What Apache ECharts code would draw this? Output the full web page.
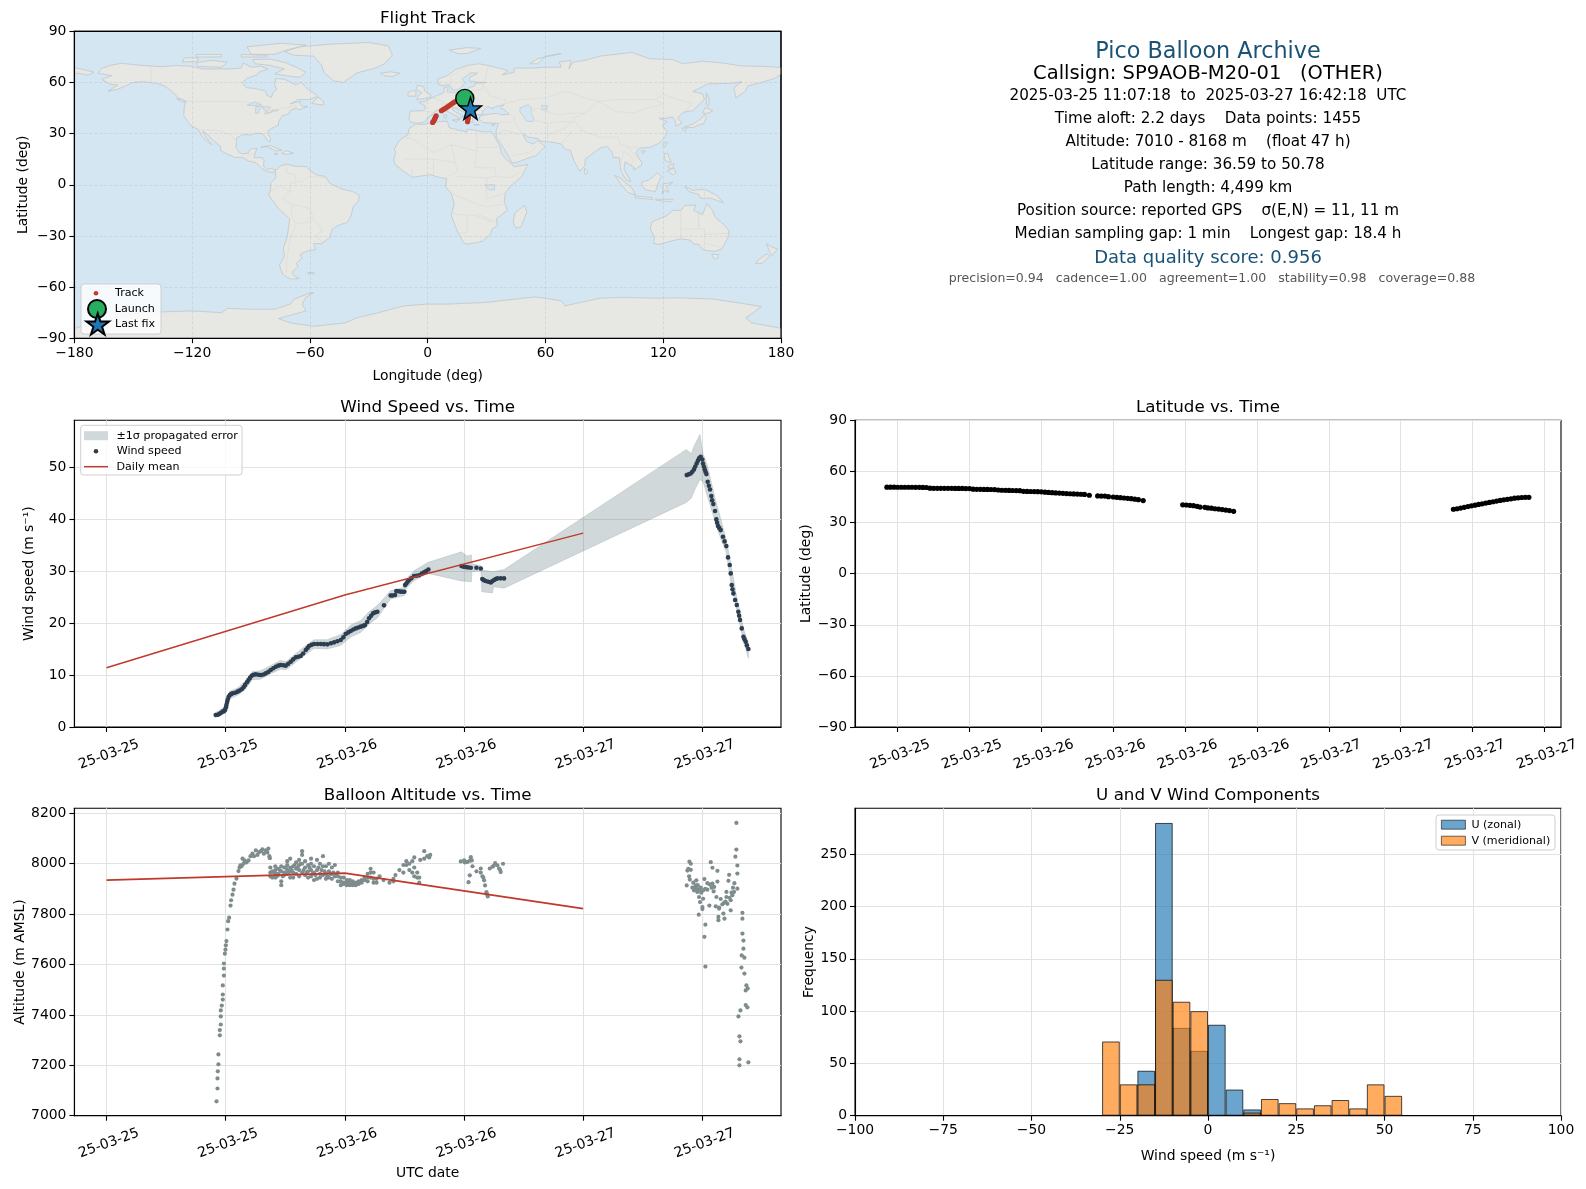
<!DOCTYPE html>
<html><head><meta charset="utf-8">
<script src="https://cdn.jsdelivr.net/npm/echarts@6/dist/echarts.min.js"></script>
<style>html,body{margin:0;padding:0;background:#fff}#c{width:1586px;height:1189px}</style>
</head><body><div id="c"></div>
<script>
const infoLines = [
 ["Pico Balloon Archive",52,22.3,"#1a5276",1208],
 ["Callsign: SP9AOB-M20-01   (OTHER)",74,19.5,"#000",1208],
 ["2025-03-25 11:07:18  to  2025-03-27 16:42:18  UTC",96,15.2,"#000",1208],
 ["Time aloft: 2.2 days    Data points: 1455",119,15.2,"#000",1208],
 ["Altitude: 7010 - 8168 m    (float 47 h)",142,15.2,"#000",1208],
 ["Latitude range: 36.59 to 50.78",165,15.2,"#000",1208],
 ["Path length: 4,499 km",188,15.2,"#000",1208],
 ["Position source: reported GPS    σ(E,N) = 11, 11 m",211,15.2,"#000",1208],
 ["Median sampling gap: 1 min    Longest gap: 18.4 h",234,15.2,"#000",1208],
 ["Data quality score: 0.956",258,18,"#1a5276",1208],
 ["precision=0.94   cadence=1.00   agreement=1.00   stability=0.98   coverage=0.88",279,12.55,"#555",1212]
];
const mapXTicks=[-180,-120,-60,0,60,120,180];
const mapYTicks=[-90,-60,-30,0,30,60,90];
const windYTicks=[0,10,20,30,40,50];
const latYTicks=[-90,-60,-30,0,30,60,90];
const altYTicks=[7000,7200,7400,7600,7800,8000,8200];
const histXTicks=[-100,-75,-50,-25,0,25,50,75,100];
const histYTicks=[0,50,100,150,200,250];
const timeTicksWide=[0,12,24,36,48,60];
const timeTicksLat=[12,18,24,30,36,42,48,54,60,66];

const landPolygons=[
[[-168,65.5],[-166,68.3],[-162,70],[-156,71.3],[-148,70.3],[-141,69.7],[-135,69.3],[-128,70],[-120,69.5],[-115,68],[-108,68],[-100,68],[-95,68.5],[-94,71.5],[-90,69],[-85,69.5],[-81.5,68],[-86,66],[-87,64.5],[-92,62.5],[-94.5,60],[-92.5,57],[-88,56.5],[-82.5,55],[-82,52.5],[-79.5,51.3],[-79,54],[-77,56],[-78,58.7],[-77.5,62.3],[-73,62],[-69.5,60],[-67,58.5],[-64.5,60.2],[-61,56],[-57,53],[-56,52],[-60,50],[-66,50],[-70,47.5],[-65,49],[-65,47.5],[-64,46],[-61,46],[-65.5,44],[-67,45],[-70,43.7],[-70.5,41.7],[-74,40.5],[-75.5,38],[-76,36.5],[-76,35],[-78,34],[-81,32],[-81.5,30.5],[-80,27],[-80.3,25.3],[-81.5,25.8],[-83,28.5],[-84,30],[-88,30.3],[-90,29.2],[-94,29.5],[-97.3,27.5],[-97.5,24],[-97.7,22],[-96,19],[-94.5,18.2],[-91.5,18.5],[-90.5,21],[-87,21.5],[-88,18.5],[-88.5,16],[-84,15.8],[-83.3,14.5],[-83.7,11],[-82,9],[-79.5,9.5],[-77.3,8.6],[-78.2,7.5],[-80.3,7.3],[-82.5,8.2],[-85,10],[-87.5,13],[-91.5,14],[-94.5,16.2],[-98,16],[-102,18],[-105.5,20],[-105.5,22.5],[-109,25.8],[-112.7,30],[-114.7,31.5],[-113,28],[-110,23.5],[-112,25],[-115,28.5],[-117,32.5],[-120.5,34.5],[-122.5,37.5],[-124.3,40.5],[-124,46],[-123,49],[-127,51],[-130,54.5],[-134,58],[-138,59.5],[-145,60.5],[-150,60],[-153,58.5],[-158,56],[-163,54.8],[-158,58.5],[-162,59],[-166,61.8],[-161,64]],
[[-73,78.2],[-65,81],[-50,82.5],[-30,83.5],[-20,81.5],[-18,76],[-22,71],[-27,68.3],[-36,65.7],[-43,60],[-48,61],[-53,66],[-54,70],[-58,75.5],[-68,76]],
[[-80,73.7],[-72,71.5],[-67,69],[-62,66],[-65,63],[-72,64],[-78,65],[-73,68],[-80,70],[-88,71],[-89,73.5]],
[[-117,69.5],[-105,69],[-102,72],[-110,73],[-118,71.5]],
[[-125,72],[-117,72.5],[-117,74.5],[-124,74.5]],
[[-90,76.5],[-78,76.5],[-72,79],[-62,82],[-75,83],[-92,81]],
[[-95,75],[-82,75],[-82,76],[-95,76.5]],
[[-118,75],[-105,75],[-105,76.5],[-118,76.5]],
[[-59,47.7],[-53,46.8],[-53,49],[-56,51.5]],
[[-128,50.5],[-125,50],[-123.5,48.5],[-125.5,48.8]],
[[-85,22],[-80,23],[-74.2,20.2],[-77.5,19.9],[-82,22.5]],
[[-74.3,18.4],[-72,20],[-68.5,18.6],[-71.5,17.8]],
[[-78.3,18.4],[-76.3,18.2],[-77.2,17.8]],
[[-78,8],[-75,11],[-72,12.2],[-68,11],[-62,10.7],[-60,8.5],[-57,6],[-52,4.8],[-50,1],[-44,-2.5],[-38.5,-3.8],[-35,-6],[-35,-9],[-38,-13],[-39,-18],[-41,-22],[-46,-24],[-48.5,-26],[-50,-31],[-54,-34.5],[-58,-34.5],[-57,-38],[-62,-39],[-65,-41],[-64,-43],[-67,-46],[-66,-48],[-69,-51],[-68.5,-53],[-65.5,-55],[-70,-55.3],[-74,-52.5],[-75.5,-47],[-73,-42],[-73.5,-37],[-71.5,-30],[-70.3,-20],[-76,-14],[-81,-6],[-80,-2.5],[-80,1],[-77.5,4],[-77.5,7]],
[[-61,-51.5],[-58,-51.3],[-58,-52.2],[-61,-52.2]],
[[-6,35.8],[-2,35.2],[3,36.9],[10,37.3],[11,33.5],[15,32.3],[20,31],[20,32.7],[24,32],[29,31],[32.5,31.2],[34.2,28],[37,22],[37.5,18.5],[39.5,15.5],[43,12],[44,10.5],[51,12],[48,5],[42,-1],[39.5,-5],[39,-10],[40.5,-15],[35,-20],[35.5,-24],[32.7,-26],[32,-29],[28,-33],[25,-34],[20,-34.8],[18.3,-34],[15,-27],[12,-18],[13.5,-11],[12,-5],[9,-1],[9.7,3.5],[5.5,4.5],[1,6],[-4,5],[-8,4.5],[-13,8.5],[-16.7,12],[-17.3,14.7],[-16.3,19],[-17,21],[-14.5,26],[-10,29.5],[-9.5,33]],
[[49.3,-12],[50.5,-16],[47.5,-24.8],[45,-25.5],[43.5,-22],[44.5,-16.5]],
[[-9,37],[-9.5,39],[-9,43.2],[-2,43.5],[-1,46],[-4.5,48.5],[-1.5,48.8],[2,51],[4,52],[8,54],[8.5,57],[10.5,57.5],[10,54.5],[14,54],[19,54.5],[21,57],[24,58],[24,59.5],[30,60],[25,60.3],[21,61],[21.5,63],[25.5,65.5],[22,65.7],[17.5,62],[19,60],[16.5,56.5],[14,55.5],[12.5,56],[11,59],[8,58],[5.5,59],[5,62],[10,64],[14,67.5],[20,70],[26,71],[31,70],[41,67],[38,64.5],[44,66],[44,68.5],[54,68.5],[60,69],[68,69],[67,72],[73,73],[72,68],[74,72],[80,73],[88,75.5],[104,77.7],[113,74],[125,73.5],[130,71],[140,72.5],[150,71.5],[160,69.7],[170,69.5],[178,69],[180,68.8],[180,65],[177,62.5],[170,60],[163,58],[162,55],[157,51],[156,57],[160,60.5],[155,59.5],[143,59.3],[135,54.7],[140,53.5],[141,50],[135,43.5],[130,42.5],[127.5,39.5],[129.4,36],[126.5,34.5],[126,37.5],[124.7,39.8],[121,39],[118,39],[122,37],[119.5,35],[122,31],[121,28],[118,24.5],[113.5,22],[108,21.5],[106,19],[109,13],[109,11.5],[105,8.7],[105,10.5],[100.5,13.5],[100,9],[103.5,2],[101,3],[98.5,8],[97.5,16],[94.5,16],[94,19],[91.5,22.5],[88,21.7],[86,20],[80.3,15],[80,11],[77.5,8],[74.5,14],[72.8,20],[70,21],[68,24],[62,25.2],[57,25.8],[56.5,27],[51,28],[48.5,30],[50,26],[51.5,25],[54,24],[56,26],[59.8,22.5],[55,17],[52,16],[45,13],[43,13],[39,21],[35,28],[34.8,31.5],[36,36],[32,36.2],[28,36.6],[26.3,38.5],[26.5,40.2],[29,41],[35,42],[38,41],[41.5,41.5],[39,44],[37,45],[39,47],[35,46],[33,45],[33.5,44.5],[30.5,46],[28,43],[28,41.5],[24,40.8],[23,39.5],[23,36.5],[21,37.5],[19.5,41],[19,42.5],[14,45.2],[12.5,45],[12.5,44],[16,41.5],[18.5,40],[16.5,39.5],[16,38],[15.5,40],[12.5,41.5],[10.5,43],[8,44],[4,43.5],[3,42],[0,39.5],[-0.5,38],[-2,36.8],[-5.5,36]],
[[-180,68.8],[-175,67.5],[-170,66],[-173,64.3],[-178,65.5],[-180,65]],
[[-5.5,50],[1.5,51.2],[1.5,52.8],[-1.5,55],[-2,57.5],[-5,58.5],[-6,56],[-3,54],[-5,52]],
[[-10,52],[-6,52],[-6,55],[-8,55.3],[-10,54]],
[[-24,65.5],[-19,66.3],[-14,65.5],[-18,63.5],[-22.5,64]],
[[11,79],[20,80.5],[27,80],[20,77],[15,77]],
[[52,71],[56,74],[68,77],[60,75.5],[56,71]],
[[12.5,38],[15.5,38.2],[15,36.7]],
[[8.2,41],[9.7,41],[9.5,39],[8.5,39]],
[[23.5,35.5],[26.3,35.2],[24,35]],
[[32.5,35],[34.5,35.6],[33.5,34.7]],
[[80,9.7],[81.8,7.5],[80.5,6],[79.8,7.5]],
[[130.9,34],[135,35.6],[137,37],[140,39.5],[141,41.3],[142,39.5],[140.7,36],[137,34.6],[135.5,33.5],[132,33.8]],
[[140,42],[141.5,45.4],[145.3,43.5],[143,42]],
[[130,33.5],[132,33],[131,31],[130,32]],
[[142,54],[143.5,50],[143,46],[142,47]],
[[121,25.2],[122,25],[120.8,22],[120,23]],
[[109,20],[111,19.7],[109.5,18.2]],
[[120.5,18.5],[122.3,18.3],[124,13],[121,14]],
[[122,8],[125.5,9.8],[126.5,7],[125,5.8]],
[[122.5,11],[125.5,12.5],[125,10],[123,9.5]],
[[109,1.5],[113,3],[117,7],[119,5],[117.5,1],[116,-4],[111,-3],[109,0]],
[[95.3,5.6],[98,4],[104,-2],[106,-6],[102,-4.5],[98,1]],
[[105.5,-6.5],[114.5,-7.5],[114.5,-8.7],[106,-7.7]],
[[119.5,-5.5],[120,0.5],[125,1.5],[121.5,-1],[123,-4.5],[120.5,-3]],
[[131,-1],[135,-3.3],[141,-2.6],[147,-6],[150.7,-10.5],[144,-7.8],[139,-8],[138,-5.5],[133,-4]],
[[116,-8.5],[125,-8.5],[124,-10],[116,-9]],
[[114,-22],[116.8,-20.5],[122,-18],[125,-15],[129,-15],[131,-12],[136.5,-12],[135.5,-15],[140,-17.5],[142.3,-11],[145,-15],[146.5,-19],[151,-23.5],[153.5,-27],[153,-31],[150,-37.5],[146.5,-39],[143,-38.7],[140,-38],[138,-35],[135.5,-34.8],[134,-32.5],[129,-31.7],[124,-33],[118,-35],[115,-34.3],[115.5,-31],[113.5,-26]],
[[144.7,-40.7],[148.3,-41],[147.5,-43.3],[146,-43.5]],
[[172.7,-34.5],[175.3,-36.5],[178.3,-37.7],[175.5,-41.5],[174,-39]],
[[172.7,-40.5],[174.3,-41.7],[170.7,-46],[167,-46.2],[168.5,-44]],
[[-180,-84.2],[-158,-78],[-147,-75],[-120,-74],[-105,-75],[-102,-72.5],[-90,-73],[-78,-73],[-70,-70],[-68,-67],[-60,-63.5],[-58,-63.2],[-62,-66],[-64,-70],[-62,-74],[-76,-78.5],[-70,-81],[-58,-83],[-42,-81],[-36,-78],[-25,-75],[-12,-71],[0,-70],[10,-70],[30,-69],[45,-67],[55,-65.8],[68,-68],[70,-71],[78,-69],[88,-66.5],[100,-66],[115,-66.5],[128,-66.3],[145,-67],[160,-69.5],[170,-71.5],[166,-75],[162,-78],[165,-81],[180,-84.2],[180,-90],[-180,-90]]
];
const lakePolygons=[
[[47,45],[51,47],[53,45],[52.5,42],[54,39.5],[53.5,37],[50,37.5],[49,40],[47,43]],
[[-92,46.7],[-88,48.7],[-84.7,47],[-88,46.5]],
[[-87.5,46],[-85,45.8],[-86.3,42],[-87.7,42]],
[[-84.5,46],[-80,45.5],[-81.8,43],[-83.5,44]],
[[-83,42],[-79,43],[-79.5,42.5],[-83,41.5]],
[[-79.5,43.8],[-76.2,44],[-76.5,43.4],[-79.5,43.3]],
[[58,46.5],[61,46.5],[60.5,44],[58.5,44]],
[[29,0],[34,0],[34,-3],[31.5,-3]]
];
const borderLines=[
[[-123,49],[-95,49],[-89,48],[-83,46],[-82.5,42],[-79,43],[-75,45],[-71,45],[-67.5,47],[-67,45]],
[[-141,69.7],[-141,60],[-135,59]],[[-117,32.5],[-106.5,31.8],[-101,29.5],[-97.3,26]],[[-92,14.5],[-91,18],[-88.5,18]],
[[-52,4],[-60,5],[-64,2],[-70,1],[-70,-4],[-74,-8],[-70,-11],[-60,-14],[-58,-20],[-55,-24],[-54,-27],[-57.5,-30.3],[-53,-33.7]],
[[-69.5,-18],[-67,-23],[-70,-32],[-72,-45],[-72,-52]],[[-58,-20],[-62,-22],[-67,-23]],[[-72,12],[-72,7],[-67.5,6],[-67,1]],[[-80,-3.5],[-75,-1],[-70,-4]],[[-69,-11],[-69.5,-18]],
[[-8.7,27.5],[-13,27.7]],[[-8.7,27.5],[3,19],[12,23.5],[25,20],[25,32]],[[25,22],[37,22]],[[12,23.5],[14,13],[15,8],[9,4]],[[25,20],[24,10],[34,10]],[[34,10],[35,5],[42,4],[48,8]],[[-12,15],[3,15],[14,13]],[[3,15],[3,6]],[[-8,10],[-8,4.5]],[[15,5],[30,4],[35,5]],[[12,-5],[22,-10],[30,-13],[40,-11]],[[30,4],[30,-8],[40,-4.7]],[[12,-17],[24,-18],[33,-22]],[[20,-18],[20,-28],[16,-28.5]],[[25,-17],[35,-22]],
[[-2,43.3],[3,42.5]],[[2.5,51],[8,49],[7,44]],[[8,54.8],[14,54],[15,51],[24,50.5],[23.5,54]],[[24,50.5],[22,48],[30,45.5]],[[7,47.5],[13,47.5],[17,48],[22,48]],[[13,45.5],[19,46],[22.7,44],[28,43.7]],[[28,59.5],[32,52],[40,49.7],[38,47]],[[19,54.4],[28,56],[28,59.5]],[[31,70],[29,61]],[[12,60],[12,64],[20,69]],
[[38,47],[47,50],[60,51],[70,55],[80,51],[87,49],[98,50],[108,50],[116,50],[120,53],[127,50],[135,48],[131,43]],[[87,49],[96,43],[105,42],[112,45],[120,47],[116,50]],[[74,39],[80,42],[87,49]],[[74,39],[78,32],[88,28],[97,28],[98,24],[102,22],[107,22]],[[52,42],[56,45],[66,41],[72,42],[80,42]],[[61,36],[61,25]],[[54,38],[61,36],[66,37],[74,37]],[[61,29.5],[70,33],[74,37]],[[68,24],[74,32]],[[36,36.5],[44,37],[44.5,39.5],[41.5,41.5]],[[35,29.5],[39,32],[47,29.5]],[[44.5,37],[48,30]],[[43,17],[52,19],[55,22]],[[98,10],[99,16],[100,20],[102,18],[105,14.5],[103,11]],[[107,15],[102,22]],[[125,38],[129,38]],
[[129,-15],[129,-31.5]],[[138,-17],[138,-26],[141,-26],[141,-38]],[[129,-26],[138,-26]],[[141,-29],[153,-28.5]],[[141,-34],[150,-37]],[[141,-2.6],[141,-9]]
];
const trackPoints=[[18.9,50.7],[17.5,50.2],[16,49.6],[15,49.2],[13.8,48.7],[13,48.1],[12,47.3],[11,46.5],[10,45.7],[9,44.9],[8,44.2],[7,43.5],[4.3,40.4],[3.9,39.5],[3.5,38.5],[3,37.3],[2.5,36.6],[20.3,37],[20.4,38],[20.6,39],[20.7,40],[20.9,41],[21.2,42],[21.5,43.4],[21.8,44.8]];
const launchPoint=[[18.9,50.7]];
const lastFixPoint=[[21.8,44.8]];

const windPoints=[[11.0,2.3],[11.2,2.35],[11.35,2.5],[11.5,2.7],[11.7,2.95],[11.85,3.1],[11.95,3.3],[12.03,3.8],[12.08,4.25],[12.15,4.8],[12.21,5.3],[12.3,5.8],[12.42,6.15],[12.55,6.35],[12.7,6.47],[12.95,6.6],[13.2,6.8],[13.4,7.0],[13.62,7.25],[13.8,7.65],[13.96,8.1],[14.15,8.6],[14.3,9.05],[14.45,9.45],[14.63,9.85],[14.8,10.05],[15.03,10.13],[15.3,10.05],[15.54,10.0],[15.8,10.1],[16.04,10.32],[16.3,10.6],[16.54,10.96],[16.8,11.3],[17.05,11.6],[17.3,11.8],[17.55,11.92],[17.8,11.88],[18.05,11.8],[18.3,12.15],[18.56,12.56],[18.8,13.0],[19.06,13.4],[19.3,13.5],[19.56,13.65],[19.8,14.15],[20.07,14.8],[20.25,15.2],[20.4,15.58],[20.65,15.8],[20.9,15.96],[21.25,15.98],[21.58,15.96],[21.9,15.94],[22.25,15.9],[22.6,16.1],[22.92,16.28],[23.25,16.5],[23.59,16.73],[23.85,17.25],[24.09,17.88],[24.35,18.2],[24.6,18.46],[24.85,18.75],[25.1,18.97],[25.35,19.15],[25.6,19.3],[25.85,19.45],[26.04,19.6],[26.25,20.2],[26.44,20.9],[26.65,21.4],[26.85,21.86],[27.05,22.05],[27.28,22.18],[27.95,23.4],[28.62,25.3],[28.8,25.3],[29.06,25.4],[29.19,26.15],[29.4,26.1],[29.6,26.05],[29.8,26.03],[30.0,26.03],[30.07,27.3],[30.2,27.6],[30.35,28.0],[30.47,28.27],[30.7,28.6],[30.97,29.04],[31.2,29.1],[31.48,29.2],[31.75,29.5],[31.98,29.74],[32.2,30.0],[32.42,30.3],[35.75,30.96],[35.95,30.85],[36.18,30.77],[36.4,30.7],[36.69,30.64],[37.26,30.64],[37.7,30.5],[37.85,28.46],[38.0,28.25],[38.19,28.08],[38.45,27.95],[38.7,27.82],[38.85,28.05],[39.03,28.27],[39.2,28.45],[39.37,28.59],[39.7,28.6],[40.04,28.59],[58.44,48.46],[58.65,48.6],[58.84,48.78],[59.0,49.1],[59.17,49.55],[59.3,50.1],[59.44,50.7],[59.56,51.2],[59.68,51.67],[59.84,51.99],[60.01,51.47],[60.08,50.7],[60.17,50.1],[60.25,49.55],[60.33,49.1],[60.42,48.65],[60.55,47.18],[60.67,46.4],[60.79,45.7],[60.92,44.42],[61.0,43.6],[61.12,42.88],[61.29,41.54],[61.42,39.94],[61.5,39.3],[61.59,38.65],[61.72,38.3],[61.86,37.88],[62.09,36.6],[62.25,35.7],[62.43,34.8],[62.6,32.63],[62.77,31.15],[62.87,29.55],[62.97,27.3],[63.05,26.5],[63.14,25.7],[63.31,24.42],[63.48,23.46],[63.64,22.18],[63.72,21.4],[63.81,20.58],[63.98,18.97],[64.15,17.37],[64.25,16.9],[64.38,16.41],[64.5,15.7],[64.65,15.0]];
const windBandHours=[11.0,12.0,12.4,13.2,14.0,14.7,15.5,16.5,17.5,18.1,19.1,20.1,20.9,22.2,23.6,24.6,25.6,26.4,27.3,28.6,30.0,30.1,31.0,32.4,35.75,36.3,36.76,36.8,37.7,37.8,38.87,39.0,40.04,58.4,58.9,59.17,59.77,60.08,60.5,61.3,61.9,62.4,62.9,63.5,64.2,64.65];
const windBandLow=[1.9,2.7,5.4,6.1,7.3,9.1,9.2,10.2,11.1,11.0,12.5,14.0,15.1,15.0,15.7,17.3,18.2,19.7,21.0,24.6,25.3,26.5,28.2,29.55,28.1,28.0,27.95,29.9,30.0,26.0,25.8,27.0,26.7,43.2,44.0,45.3,47.6,47.2,44.5,39.5,36.0,33.7,27.6,22.2,16.2,13.2];
const windBandHigh=[2.8,4.0,6.9,7.5,8.9,10.7,10.8,11.8,12.8,12.6,14.2,15.7,16.8,16.8,17.8,19.6,20.5,22.1,23.4,26.2,26.9,28.3,30.1,31.67,33.7,32.9,33.1,31.4,31.0,30.2,29.9,29.9,30.3,53.4,52.6,54.0,56.3,52.6,50.5,44.0,39.8,36.2,31.4,24.8,18.7,16.2];
const windMeanPoints=[[0,11.4],[24,25.4],[48,37.3]];
const altMeanPoints=[[0,7935],[24,7963],[48,7822]];

const latPoints=[[11.1,50.75],[11.4,50.75],[11.7,50.75],[12,50.7],[12.3,50.7],[12.6,50.7],[12.9,50.7],[13.2,50.7],[13.5,50.65],[13.8,50.65],[14.1,50.6],[14.4,50.55],[14.7,50.15],[15,50.1],[15.3,50.1],[15.6,50.1],[15.9,50.05],[16.2,50.05],[16.5,50.05],[16.8,50],[17.1,50],[17.4,50],[17.7,49.95],[18,49.95],[18.3,49.55],[18.6,49.5],[18.9,49.5],[19.2,49.45],[19.5,49.45],[19.8,49.4],[20.1,49.35],[20.4,49.1],[20.7,48.95],[21,48.9],[21.3,48.85],[21.6,48.8],[21.9,48.75],[22.2,48.7],[22.5,48.3],[22.8,48.25],[23.1,48.2],[23.4,48.15],[23.7,48.1],[24,48.0],[24.3,47.8],[24.6,47.65],[24.9,47.55],[25.2,47.4],[25.5,47.3],[25.8,47.15],[26.1,47.0],[26.4,46.9],[26.7,46.8],[27,46.7],[27.3,46.6],[27.6,46.5],[28,46.0],[28.7,45.6],[29,45.55],[29.3,45.5],[29.6,45.2],[30.0,45.0],[30.3,44.8],[30.6,44.6],[30.9,44.4],[31.2,44.2],[31.5,44],[31.8,43.7],[32.1,43.4],[32.5,42.9],[35.8,40.4],[36.1,40.3],[36.4,40.1],[36.7,39.9],[37.0,39.5],[37.25,39.1],[37.65,38.9],[37.9,38.6],[38.2,38.4],[38.5,38.1],[38.8,37.9],[39.1,37.6],[39.4,37.3],[39.7,37],[40.05,36.6],[58.4,37.8],[58.7,38.1],[59,38.5],[59.3,38.9],[59.6,39.4],[59.9,39.8],[60.2,40.2],[60.5,40.6],[60.8,41],[61.1,41.4],[61.4,41.8],[61.7,42.2],[62,42.6],[62.3,43],[62.6,43.3],[62.9,43.6],[63.2,43.9],[63.5,44.3],[63.8,44.5],[64.1,44.7],[64.4,44.8],[64.7,44.8]];

const altPoints=[[11.08,7057],[11.18,7108],[11.18,7148],[11.21,7176],[11.27,7204],[11.27,7243],[11.41,7319],[11.41,7340],[11.51,7362],[11.51,7394],[11.51,7418],[11.61,7437],[11.71,7461],[11.71,7481],[11.71,7517],[11.82,7556],[11.82,7584],[11.82,7604],[11.92,7643],[11.98,7659],[12.02,7676],[12.08,7693],[12.18,7739],[12.25,7772],[12.35,7786],[12.49,7834],[12.55,7855],[12.69,7877],[12.79,7897],[12.89,7921],[13.09,7941],[13.29,7971],[13.4,7985],[13.49,7994],[13.6,7990],[13.7,8020],[13.8,8000],[13.9,8013],[14.1,8005],[14.3,8013],[14.5,8030],[14.7,8040],[14.85,8030],[15.04,8053],[15.2,8035],[15.37,8046],[15.55,8050],[15.7,8057],[15.85,8040],[16.04,8053],[16.2,8045],[16.3,8060],[16.4,8030],[16.45,8022],
[16.5,7985],[16.5,7965],[16.5,7950],[16.7,7970],[16.7,7945],[17,7962],[17,7975],[17,7945],[17,7990],[17.3,7955],[17.3,7980],[17.3,7960],[17.6,7930],[17.6,7915],[17.6,7970],[17.6,7990],[17.9,7965],[17.9,7985],[17.9,7955],[18.2,7975],[18.2,7995],[18.2,8010],[18.2,7960],[18.5,8020],[18.5,7985],[18.5,7970],[18.5,7945],[18.8,7990],[18.8,7965],[18.8,7945],[19.1,8005],[19.1,7980],[19.1,7960],[19.4,7975],[19.4,7995],[19.4,8015],[19.4,7950],[19.7,8050],[19.7,8035],[19.7,8000],[19.7,7965],[20,8010],[20,7985],[20,7955],[20.3,7970],[20.3,7995],[20.3,7945],[20.6,8000],[20.6,8020],[20.6,7975],[20.6,7950],[20.9,7990],[20.9,7965],[20.9,7935],[21.2,8015],[21.2,7975],[21.2,7940],[21.5,8000],[21.5,7960],[21.5,7945],[21.8,8030],[21.8,7990],[21.8,7955],[22.1,7990],[22.1,7960],[22.1,7940],[22.4,8000],[22.4,7970],[22.4,7945],[22.7,7960],[22.7,7940],[22.7,7985],[23,7995],[23,7950],[23.3,7950],[23.3,7930],[23.3,7965],[23.6,7930],[23.6,7915],[23.6,7945],[23.9,7925],[23.9,7945],[23.9,7920],[24.2,7935],[24.2,7925],[24.2,7915],[24.5,7935],[24.5,7925],[24.5,7915],[24.8,7930],[24.8,7920],[24.8,7915],[25.1,7925],[25.1,7915],[25.1,7920],[25.4,7920],[25.4,7930],[25.7,7925],[25.7,7935],[26,7935],[26,7945],[26.3,7945],[26.3,7930],[26.3,7960],[26.6,7945],[26.6,7965],[26.6,7980],[26.9,7965],[26.9,7940],[26.9,7925],[27.2,7925],[27.2,7940],[27.5,7950],[27.9,7935],[28.5,7925],[28.9,7940],[28.9,7930],[29.1,7955],[29.5,7975],[29.9,7995],[29.9,7965],[30.2,8010],[30.2,7995],[30.5,8000],[30.5,7975],[30.8,8010],[30.8,7965],[31,8025],[31,7985],[31,7950],[31.3,7965],[31.3,7945],[31.5,7925],[31.5,7945],[31.6,8015],[32,8020],[32,8050],[32.5,8025],[32.3,8030],[32.6,8035],
[16.85,7965],[17.15,7950],[17.45,7975],[17.75,7950],[18.05,7985],[18.35,7965],[18.65,7975],[18.95,7995],[19.25,7985],[19.55,8000],[19.85,7975],[20.15,7965],[20.45,7985],[20.75,7960],[21.05,7955],[21.35,7985],[21.65,7975],[21.95,7970],[22.25,7950],[22.55,7960],[22.85,7965],[23.15,7955],
[35.68,8009],[36.02,8013],[36.35,8007],[36.69,8026],[36.79,8013],[36.86,7990],[36.59,7954],[36.46,7927],[37.26,7970],[37.69,7981],[37.69,7965],[37.87,7950],[38.03,7934],[38.13,7914],[38.27,7887],[38.4,7870],[38.6,7981],[38.87,7988],[39.14,8003],[39.37,7994],[39.7,7967],[39.94,8000],[39.54,7981],[36.1,8005],[36.6,8012],[38.33,7878],[37.95,7945],[39.0,7992],[39.65,7975],
[63.44,8162],[63.44,8056],[63.34,8028],[63.54,7993],[63.54,7961],[58.71,8008],[58.85,8000],[58.51,7973],[58.85,7976],[58.68,7950],[58.75,7937],[58.44,7914],[59.01,7905],[59.41,7934],[59.35,7914],[59.18,7894],[59.68,7897],[59.51,7888],[59.85,7905],[60.22,7939],[60.52,7923],[60.86,8006],[61.03,7984],[61.53,7972],[61.03,7921],[61.2,7908],[61.53,7929],[60.52,7897],[60.09,7894],[59.68,7868],[60.09,7861],[59.78,7848],[60.02,7828],[60.02,7820],[59.65,7798],[60.72,7834],[61.36,7831],[61.7,7826],[61.43,7868],[61.86,7860],[62.44,7888],[62.44,7868],[62.71,7956],[62.64,7932],[63.24,7923],[63.54,7901],[63.2,7888],[63.04,7875],[62.87,7855],[62.54,7841],[62.03,7839],[61.7,7822],[62.87,7815],[62.13,7802],[61.63,7789],[61.63,7776],[62.24,7782],[60.32,7758],[60.22,7710],[60.32,7592],[64.05,7805],[64.05,7782],[64.05,7723],[64.15,7695],[64.15,7663],[63.98,7636],[64.25,7627],[63.95,7588],[64.25,7564],[64.45,7517],[64.38,7497],[64.58,7505],[64.38,7439],[64.55,7430],[63.85,7418],[63.65,7394],[63.75,7315],[63.85,7295],[63.75,7224],[63.75,7200],[64.65,7212],[58.6,7980],[59.1,7925],[59.25,7905],[59.45,7900],[59.55,7915],[59.9,7885],[60.3,7900],[60.75,7918],[60.95,7905],[61.15,7890],[62.2,7845],[62.35,7850],[62.75,7865],[62.95,7885],[63.1,7905]];

const histBins=[-100,-95,-90,-85,-80,-75,-70,-65,-60,-55,-50,-45,-40,-35,-30,-25,-20,-15,-10,-5,0,5,10,15,20,25,30,35,40,45,50,55,60,65,70,75,80,85,90,95];
const histU=[null,null,null,null,null,null,null,null,null,null,null,null,null,null,null,null,43,280,84,62,87,25,6,null,null,null,null,null,null,null,null,null,null,null,null,null,null,null,null,null];
const histV=[null,null,null,null,null,null,null,null,null,null,null,null,null,null,71,30,30,130,109,100,null,null,3,16,12,7,10,15,7,30,19,null,null,null,null,null,null,null,null,null];

const FONT='"DejaVu Sans"';
const GRIDC='#e2e2e2';
const dateFmt=v=>'25-03-'+(25+Math.floor(v/24));
const numFmt=v=>String(v).replace('-','\u2212');
const grids=[
 {left:74.4,top:31.4,width:706.6,height:306.8,show:true,borderColor:'#000',borderWidth:1.1,backgroundColor:'#d4e6f1'},
 {left:74.4,top:420.3,width:706.6,height:306.7,show:true,borderColor:'#000',borderWidth:1.1},
 {left:855,top:420.3,width:706,height:306.7,show:true,borderColor:'#000',borderWidth:1.1},
 {left:74.4,top:808.3,width:706.6,height:307.4,show:true,borderColor:'#000',borderWidth:1.1},
 {left:855,top:808.3,width:706,height:307.4,show:true,borderColor:'#000',borderWidth:1.1}
];
function ax(g,min,max,ticks,fmt,extra){
 return Object.assign({type:'value',gridIndex:g,min,max,
  axisLine:{show:true,onZero:false,lineStyle:{color:'#000',width:1.1}},
  axisTick:{show:true,length:5,customValues:ticks,lineStyle:{color:'#000',width:1.1}},
  axisLabel:{customValues:ticks,color:'#000',fontSize:13.9,fontFamily:FONT,formatter:fmt,margin:8,hideOverlap:false,showMinLabel:true,showMaxLabel:true},
  splitLine:{show:true,lineStyle:{color:GRIDC,width:1.1}},
  nameLocation:'middle',nameTextStyle:{color:'#000',fontSize:13.9,fontFamily:FONT}},extra||{});
}
function yax(g,min,max,ticks,fmt,extra){
 const a=ax(g,min,max,ticks,fmt,extra);a.axisLabel.padding=[4,0,0,0];return a;
}
const timeLabel={rotate:20,align:'center',verticalAlign:'top',margin:21};
function tax(g,min,max,ticks,extra){
 const a=ax(g,min,max,ticks,dateFmt,extra);Object.assign(a.axisLabel,timeLabel);return a;
}
const mapSplit={show:true,showMinLine:false,showMaxLine:false,lineStyle:{color:'#a9b4ba',width:.6,type:[3,2],opacity:.5}};
const xAxes=[
 ax(0,-180,180,mapXTicks,numFmt,{name:'Longitude (deg)',nameGap:31,z:2,splitLine:mapSplit}),
 tax(1,-3.235,67.935,timeTicksWide),
 tax(2,8.44,67.38,timeTicksLat),
 tax(3,-3.235,67.935,timeTicksWide,{name:'UTC date',nameGap:51}),
 ax(4,-100,100,histXTicks,numFmt,{name:'Wind speed (m s\u207B\u00B9)',nameGap:34}),
 {type:'category',gridIndex:4,data:histBins,show:false,boundaryGap:true}
];
const yAxes=[
 yax(0,-90,90,mapYTicks,numFmt,{name:'Latitude (deg)',nameGap:44,z:2,splitLine:mapSplit}),
 yax(1,0,59,windYTicks,numFmt,{name:'Wind speed (m s\u207B\u00B9)',nameGap:38}),
 yax(2,-90,90,latYTicks,numFmt,{name:'Latitude (deg)',nameGap:40}),
 yax(3,7000,8220,altYTicks,numFmt,{name:'Altitude (m AMSL)',nameGap:47}),
 yax(4,0,294,histYTicks,numFmt,{name:'Frequency',nameGap:38})
];
function polyRender(list,style){
 return function(params,api){
  const pts=list[params.dataIndex].map(p=>api.coord(p));
  return {type:'polygon',shape:{points:pts},style};
 };
}
function lineRender(list,style){
 return function(params,api){
  const pts=list[params.dataIndex].map(p=>api.coord(p));
  return {type:'polyline',shape:{points:pts},style};
 };
}
const STAR='path://M50 0 L61.8 35.1 L98.9 35.1 L68.9 57.7 L79.4 91.2 L50 70 L20.6 91.2 L31.1 57.7 L1.1 35.1 L38.2 35.1 Z';
const series=[
 {type:'custom',name:'Land',xAxisIndex:0,yAxisIndex:0,z:1,silent:true,clip:true,data:landPolygons.map(p=>p[0]),
  renderItem:polyRender(landPolygons,{fill:'#e7e7e3',stroke:'#bcc3c7',lineWidth:.7})},
 {type:'custom',name:'Lakes',xAxisIndex:0,yAxisIndex:0,z:1,silent:true,clip:true,data:lakePolygons.map(p=>p[0]),
  renderItem:polyRender(lakePolygons,{fill:'#d4e6f1',stroke:'#bcc3c7',lineWidth:.6})},
 {type:'custom',name:'Borders',xAxisIndex:0,yAxisIndex:0,z:1,silent:true,clip:true,data:borderLines.map(p=>p[0]),
  renderItem:lineRender(borderLines,{fill:null,stroke:'#d9dad8',lineWidth:.6})},
 {type:'scatter',name:'Track',xAxisIndex:0,yAxisIndex:0,z:3,data:trackPoints,symbolSize:5.2,itemStyle:{color:'#c0392b',opacity:1}},
 {type:'scatter',name:'Launch',xAxisIndex:0,yAxisIndex:0,z:4,data:launchPoint,symbolSize:18,itemStyle:{color:'#27ae60',borderColor:'#000',borderWidth:1.4,opacity:1}},
 {type:'scatter',name:'Last fix',xAxisIndex:0,yAxisIndex:0,z:5,data:lastFixPoint,symbol:STAR,symbolSize:22,itemStyle:{color:'#1f77b4',borderColor:'#000',borderWidth:1.4,opacity:1}},

 {type:'custom',name:'\u00B11\u03C3 propagated error',xAxisIndex:1,yAxisIndex:1,z:2,silent:true,
  data:windBandHours.map((h,i)=>[h,windBandLow[i],windBandHigh[i]]),
  itemStyle:{color:'#d1d8da'},
  renderItem:function(params,api){
   if(params.dataIndex!==0) return null;
   const up=windBandHours.map((h,i)=>api.coord([h,windBandHigh[i]]));
   const lo=windBandHours.map((h,i)=>api.coord([h,windBandLow[i]])).reverse();
   return {type:'polygon',shape:{points:up.concat(lo)},style:{fill:'rgba(85,110,120,0.27)',stroke:'rgba(85,110,120,0.22)',lineWidth:.8}};
  }},
 {type:'scatter',name:'Wind speed',xAxisIndex:1,yAxisIndex:1,z:3,data:windPoints,symbolSize:4.6,itemStyle:{color:'#2c3e50',opacity:1}},
 {type:'line',name:'Daily mean',xAxisIndex:1,yAxisIndex:1,z:4,data:windMeanPoints,symbol:'none',lineStyle:{color:'#c0392b',width:1.5},itemStyle:{color:'#c0392b'}},

 {type:'scatter',name:'Latitude',xAxisIndex:2,yAxisIndex:2,z:3,data:latPoints,symbolSize:5.2,itemStyle:{color:'#000',opacity:1}},

 {type:'scatter',name:'Altitude',xAxisIndex:3,yAxisIndex:3,z:3,data:altPoints,symbolSize:4.2,itemStyle:{color:'#7f8c8d',opacity:1}},
 {type:'line',name:'Altitude daily mean',xAxisIndex:3,yAxisIndex:3,z:4,data:altMeanPoints,symbol:'none',lineStyle:{color:'#c0392b',width:1.8}},

 {type:'bar',name:'U (zonal)',xAxisIndex:5,yAxisIndex:4,z:3,data:histU,barWidth:'100%',barGap:'-100%',itemStyle:{color:'rgba(31,119,180,0.66)',borderColor:'rgba(0,0,0,0.7)',borderWidth:1}},
 {type:'bar',name:'V (meridional)',xAxisIndex:5,yAxisIndex:4,z:4,data:histV,barWidth:'100%',barGap:'-100%',itemStyle:{color:'rgba(255,127,14,0.66)',borderColor:'rgba(0,0,0,0.7)',borderWidth:1}}
];
function leg(name,icon,left,cy,w,h,pad,style){
 const item={name,icon};
 if(style) item.itemStyle=style;
 return {data:[item],left:left,top:cy-Math.max(h,9.6)/2,itemWidth:w,itemHeight:h,padding:0,selectedMode:false,z:60,
  textStyle:{color:'#000',fontSize:11.1,fontFamily:FONT,padding:[0,0,0,pad||0]}};
}
const thin={borderWidth:.8};
const legends=[
 leg('Track','circle',93.7,292.5,24,4.6,2),leg('Launch','circle',87,308,24,18,.7),leg('Last fix',STAR,85.5,323,24,21,.2),
 leg('\u00B11\u03C3 propagated error','rect',84,435,24,9,3.5),leg('Wind speed','circle',93.7,450.5,24,4.6,3.7),leg('Daily mean','rect',84,466,24,1.5,3.5,{borderWidth:0}),
 leg('U (zonal)','rect',1441,824,24,9,1,thin),leg('V (meridional)','rect',1441,840,24,9,1,thin)
];
const legendBox=(x,y,w,h)=>({type:'rect',z:50,shape:{x,y,width:w,height:h,r:3},style:{fill:'rgba(255,255,255,0.8)',stroke:'#cfcfcf',lineWidth:1}});
const mapFrame={type:'rect',z:40,silent:true,shape:{x:74.4,y:31.4,width:706.6,height:306.8},style:{fill:'none',stroke:'#000',lineWidth:1.1}};
const graphics=[mapFrame,legendBox(81,284,80,50),legendBox(80.7,425.3,161.3,49.7),legendBox(1436,815,119,35)]
 .concat(infoLines.map(l=>({type:'text',z:60,style:{text:l[0],x:l[4],y:l[1],fill:l[3],font:l[2]+'px '+FONT,textAlign:'center',textVerticalAlign:'middle'}})));
const titles=[
 ['Flight Track',427.7,19],['Wind Speed vs. Time',427.7,407.3],['Latitude vs. Time',1208,407.3],['Balloon Altitude vs. Time',427.7,795.8],['U and V Wind Components',1208,795.8]
].map(t=>({text:t[0],left:t[1],top:t[2]-10,textAlign:'center',padding:0,textStyle:{color:'#000',fontWeight:'normal',fontSize:16.7,fontFamily:FONT,lineHeight:20}}));
const chart=echarts.init(document.getElementById('c'),null,{renderer:'canvas'});
chart.setOption({animation:false,backgroundColor:'#fff',title:titles,grid:grids,xAxis:xAxes,yAxis:yAxes,legend:legends,series,graphic:graphics,tooltip:{show:false}});
</script></body></html>
